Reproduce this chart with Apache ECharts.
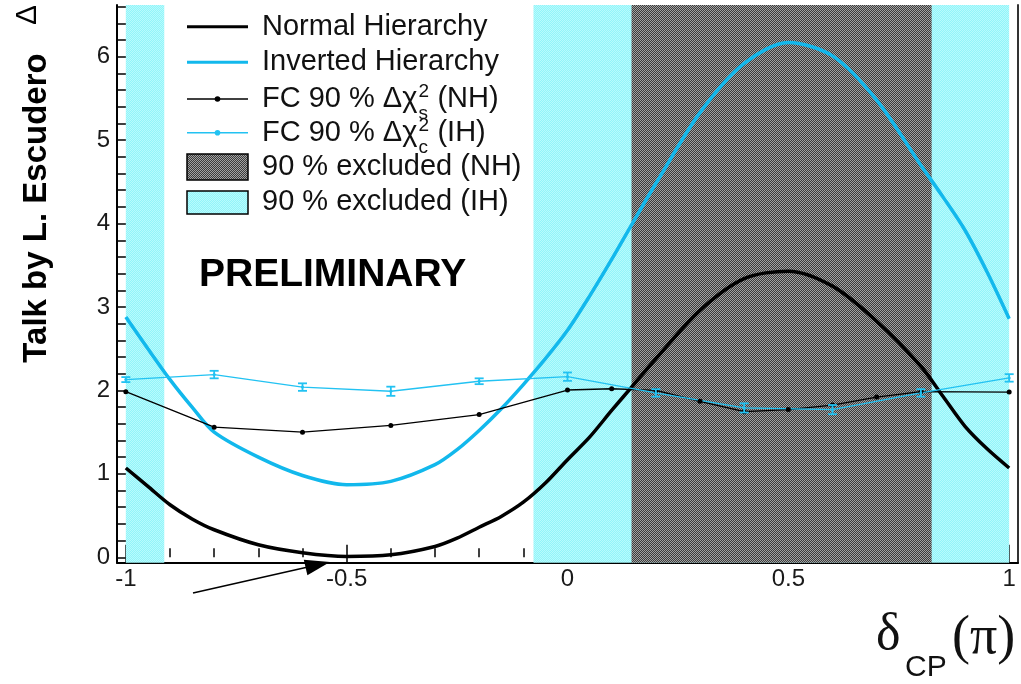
<!DOCTYPE html>
<html>
<head>
<meta charset="utf-8">
<script src="https://cdn.jsdelivr.net/npm/echarts@6/dist/echarts.min.js"></script>
<style>
html,body{margin:0;padding:0;background:#fff;}
#chart{width:1021px;height:684px;}
</style>
</head>
<body>
<div id="chart"></div>
<script>
// ---- data ----
const curveX = [-1,-0.95,-0.9,-0.85,-0.8,-0.7,-0.6,-0.5,-0.4,-0.3,-0.25,-0.2,-0.15,-0.1,-0.05,0,0.05,0.1,0.15,0.2,0.3,0.4,0.5,0.6,0.7,0.8,0.85,0.9,0.95,1];
const normalHierarchy = [1.07,0.85,0.63,0.46,0.33,0.15,0.055,0.01,0.03,0.13,0.23,0.36,0.49,0.66,0.89,1.17,1.44,1.76,2.07,2.38,2.96,3.34,3.43,3.25,2.83,2.29,1.93,1.57,1.30,1.07];
const invertedHierarchy = [2.88,2.50,2.13,1.80,1.50,1.20,0.98,0.87,0.91,1.11,1.29,1.52,1.78,2.07,2.38,2.72,3.13,3.57,4.03,4.48,5.33,5.92,6.17,6.01,5.48,4.70,4.32,3.92,3.42,2.86];
const fcNhX = [-1,-0.8,-0.6,-0.4,-0.2,0,0.1,0.2,0.3,0.4,0.5,0.6,0.7,0.8,1];
const fcNh = [1.985,1.56,1.50,1.58,1.71,2.005,2.02,2.0,1.87,1.745,1.77,1.825,1.92,1.985,1.98];
const fcIhX = [-1,-0.8,-0.6,-0.4,-0.2,0,0.2,0.4,0.6,0.8,1];
const fcIh = [2.13,2.19,2.04,1.99,2.11,2.165,1.97,1.79,1.77,1.97,2.15];
const fcIhErr = [0.03,0.045,0.045,0.055,0.035,0.05,0.045,0.055,0.055,0.045,0.045];
const ihExcluded = [[-1,-0.913],[-0.077,1.0]];
const nhExcluded = [[0.145,0.8245]];
const xMajorTicks = [-1,-0.5,0,0.5,1];
const xMinorTicks = [-0.9,-0.8,-0.7,-0.6,-0.4,-0.3,-0.2,-0.1,0.1,0.2,0.3,0.4,0.6,0.7,0.8,0.9];
const yLabels = [0,1,2,3,4,5,6];
const yTicks = [0,0.2,0.4,0.6,0.8,1,1.2,1.4,1.6,1.8,2,2.2,2.4,2.6,2.8,3,3.2,3.4,3.6,3.8,4,4.2,4.4,4.6,4.8,5,5.2,5.4,5.6,5.8,6,6.2,6.4,6.6];
const legendLabels = ['Normal Hierarchy','Inverted Hierarchy','FC 90 % \u0394\u03c7','FC 90 % \u0394\u03c7','90 % excluded (NH)','90 % excluded (IH)'];
const legendSup = ['2','2'];
const legendSub = ['s','c'];
const legendTail = ['(NH)','(IH)'];

// ---- helpers ----
function checker(c1, c2){
  const cv = document.createElement('canvas');
  cv.width = 2; cv.height = 2;
  const g = cv.getContext('2d');
  g.fillStyle = c1; g.fillRect(0,0,2,2);
  g.fillStyle = c2; g.fillRect(0,0,1,1); g.fillRect(1,1,1,1);
  return {image: cv, repeat: 'repeat'};
}
const cyanFill = checker('#92f4f9','#b8fbfd');
const grayFill = checker('#3c3c3c','#a2a2a2');
const CYAN = '#12b8ec';
const CYAN2 = '#22c2f2';
const FONT = 'Liberation Sans';
const LFONT = '29px ' + FONT;

function zip(a,b){ return a.map((v,i)=>[v,b[i]]); }
const mctx = document.createElement('canvas').getContext('2d');
mctx.font = LFONT;
const fcW = mctx.measureText(legendLabels[2]).width;

const chart = echarts.init(document.getElementById('chart'), null, {renderer:'canvas'});

const bands = [];
ihExcluded.forEach(r => bands.push([{xAxis:r[0], itemStyle:{color:cyanFill}},{xAxis:r[1]}]));
nhExcluded.forEach(r => bands.push([{xAxis:r[0], itemStyle:{color:grayFill}},{xAxis:r[1]}]));

const axisBase = {type:'value', min:-1.02, max:1.02, splitLine:{show:false}};
const yBase = {type:'value', min:-0.065, max:6.62, splitLine:{show:false}};

const rowsY = [26.7, 62.3, 99, 132.7, 167, 202];
const legendGraphics = [
  {type:'line', shape:{x1:187,y1:rowsY[0],x2:248,y2:rowsY[0]}, style:{stroke:'#000', lineWidth:3}},
  {type:'line', shape:{x1:187,y1:rowsY[1],x2:248,y2:rowsY[1]}, style:{stroke:CYAN, lineWidth:3}},
  {type:'line', shape:{x1:187,y1:rowsY[2],x2:248,y2:rowsY[2]}, style:{stroke:'#000', lineWidth:1.5}},
  {type:'circle', shape:{cx:217.5, cy:rowsY[2], r:2.8}, style:{fill:'#000'}},
  {type:'line', shape:{x1:187,y1:rowsY[3],x2:248,y2:rowsY[3]}, style:{stroke:CYAN2, lineWidth:1.5}},
  {type:'circle', shape:{cx:217.5, cy:rowsY[3], r:2.8}, style:{fill:CYAN2}},
  {type:'rect', shape:{x:187, y:154, width:61, height:26}, style:{fill:grayFill, stroke:'#000', lineWidth:1.5}},
  {type:'rect', shape:{x:187, y:191, width:61, height:23}, style:{fill:cyanFill, stroke:'#000', lineWidth:1.5}}
];
legendLabels.forEach((t,i)=>{
  legendGraphics.push({type:'text', x:262, y:rowsY[i], style:{text:t, font:LFONT, fill:'#111', verticalAlign:'middle'}});
});
[0,1].forEach(k=>{
  const yy = rowsY[2+k];
  const sx = 262 + fcW + 1;
  legendGraphics.push({type:'text', x:sx, y:yy-7, style:{text:legendSup[k], font:'19px '+FONT, fill:'#111', verticalAlign:'middle'}});
  legendGraphics.push({type:'text', x:sx, y:yy+15, style:{text:legendSub[k], font:'19px '+FONT, fill:'#111', verticalAlign:'middle'}});
  legendGraphics.push({type:'text', x:sx+19, y:yy, style:{text:legendTail[k], font:LFONT, fill:'#111', verticalAlign:'middle'}});
});

const option = {
  animation:false,
  backgroundColor:'#fff',
  grid:{left:117, right:3, top:5, bottom:121.3},
  xAxis:[
    Object.assign({}, axisBase, {
      position:'bottom',
      axisLine:{show:true, onZero:false, lineStyle:{color:'#000', width:2}},
      axisTick:{show:true, inside:true, length:18, customValues:xMajorTicks, lineStyle:{color:'#000', width:1.5}},
      axisLabel:{show:true, customValues:xMajorTicks, fontSize:24, fontFamily:FONT, color:'#1a1a1a', margin:5,
        formatter:v=>String(v)}
    }),
    Object.assign({}, axisBase, {
      position:'bottom',
      axisLine:{show:false},
      axisTick:{show:true, inside:true, length:9, customValues:xMinorTicks, lineStyle:{color:'#000', width:1.5}},
      axisLabel:{show:false}
    })
  ],
  yAxis:[
    Object.assign({}, yBase, {
      position:'left',
      axisLine:{show:true, onZero:false, lineStyle:{color:'#000', width:2}},
      axisTick:{show:true, inside:true, length:9, customValues:yTicks, lineStyle:{color:'#000', width:1.5}},
      axisLabel:{show:true, customValues:yLabels, fontSize:24, fontFamily:FONT, color:'#1a1a1a', margin:7}
    }),
    Object.assign({}, yBase, {
      position:'right',
      axisLine:{show:true, onZero:false, lineStyle:{color:'#333', width:2}},
      axisTick:{show:false}, axisLabel:{show:false}
    })
  ],
  series:[
    {type:'line', name:'bands', data:[], silent:true,
      markArea:{silent:true, data:bands}},
    {type:'line', name:'Normal Hierarchy', data:zip(curveX, normalHierarchy), smooth:0.3,
      showSymbol:false, lineStyle:{color:'#000', width:3.5}, itemStyle:{color:'#000'}, z:4},
    {type:'line', name:'Inverted Hierarchy', data:zip(curveX, invertedHierarchy), smooth:0.3,
      showSymbol:false, lineStyle:{color:CYAN, width:3.5}, itemStyle:{color:CYAN}, z:4},
    {type:'line', name:'FC NH', data:zip(fcNhX, fcNh), symbol:'circle', symbolSize:5,
      lineStyle:{color:'#000', width:1.3}, itemStyle:{color:'#000'}, z:5},
    {type:'line', name:'FC IH', data:zip(fcIhX, fcIh), symbol:'circle', symbolSize:3,
      lineStyle:{color:CYAN2, width:1.3}, itemStyle:{color:CYAN2}, z:5},
    {type:'custom', name:'FC IH err', z:6,
      data:fcIhX.map((x,i)=>[x, fcIh[i]-fcIhErr[i], fcIh[i]+fcIhErr[i]]),
      renderItem:function(params, api){
        const lo = api.coord([api.value(0), api.value(1)]);
        const hi = api.coord([api.value(0), api.value(2)]);
        const w = 4.5;
        const st = {stroke:CYAN2, lineWidth:1.8};
        return {type:'group', children:[
          {type:'line', shape:{x1:lo[0], y1:lo[1], x2:hi[0], y2:hi[1]}, style:st},
          {type:'line', shape:{x1:lo[0]-w, y1:lo[1], x2:lo[0]+w, y2:lo[1]}, style:st},
          {type:'line', shape:{x1:hi[0]-w, y1:hi[1], x2:hi[0]+w, y2:hi[1]}, style:st}
        ]};
      }
    }
  ],
  graphic: legendGraphics.concat([
    {type:'text', x:199, y:275.5, style:{text:'PRELIMINARY', font:'bold 39px '+FONT, fill:'#000', verticalAlign:'middle'}},
    {type:'text', x:37, y:208, rotation:Math.PI/2, style:{text:'Talk by L. Escudero', font:'bold 33px '+FONT, fill:'#000', align:'center', verticalAlign:'middle'}},
    {type:'text', x:28, y:15, rotation:Math.PI/2, style:{text:'\u0394', font:'30px '+FONT, fill:'#000', align:'center', verticalAlign:'middle'}},
    {type:'line', shape:{x1:193,y1:593,x2:308,y2:567}, style:{stroke:'#000', lineWidth:1.5}},
    {type:'polygon', shape:{points:[[330,562],[307.4,575.3],[303.8,559.7]]}, style:{fill:'#000'}},
    {type:'text', x:876, y:635, style:{text:'\u03b4', font:'52px Liberation Serif', fill:'#111', verticalAlign:'middle'}},
    {type:'text', x:905, y:668, style:{text:'CP', font:'30px '+FONT, fill:'#111', verticalAlign:'middle'}},
    {type:'text', x:952, y:639, style:{text:'(\u03c0)', font:'54px Liberation Serif', fill:'#111', verticalAlign:'middle'}}
  ])
};
chart.setOption(option);
</script>
</body>
</html>
